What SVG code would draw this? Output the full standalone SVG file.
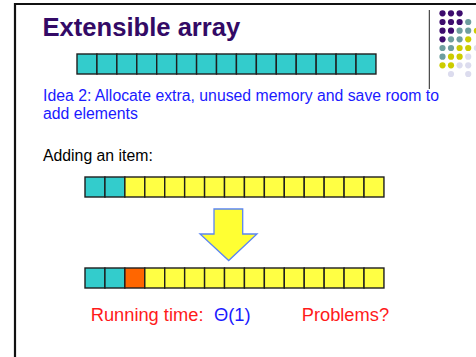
<svg xmlns="http://www.w3.org/2000/svg" width="476" height="357" viewBox="0 0 476 357">
  <style>
    .cell { stroke: #1e1e1e; stroke-width: 1.4; }
    .teal { fill: #33CCCC; }
    .yel { fill: #FFFF44; }
    .org { fill: #FF6600; }
    .txt { font-family: "Liberation Sans", Arial, sans-serif; }
    .p { fill: #3D0C6E; }
    .t { fill: #6E9E9E; }
    .y { fill: #CCCC00; }
    .l { fill: #DCDCEE; }
  </style>
  <defs>
    <rect id="c" width="19.93" height="20" class="cell"/>
  </defs>
  <rect width="476" height="357" fill="#ffffff"/>
  <!-- slide frame -->
  <path d="M15 360 V4 H480" fill="none" stroke="#111" stroke-width="2.2"/>
  <!-- corner logo -->
  <g id="logo">
    <line x1="429.3" y1="10" x2="429.3" y2="89" stroke="#222" stroke-width="1"/>
    <g>
      <circle cx="442.5" cy="13.3" r="3.1" class="p"/><circle cx="451" cy="13.3" r="3.1" class="p"/><circle cx="459.6" cy="13.3" r="3.1" class="p"/>
      <circle cx="442.5" cy="22" r="3.1" class="p"/><circle cx="451" cy="22" r="3.1" class="p"/><circle cx="459.6" cy="22" r="3.1" class="p"/><circle cx="468.2" cy="22" r="3.1" class="t"/>
      <circle cx="442.5" cy="30.7" r="3.1" class="p"/><circle cx="451" cy="30.7" r="3.1" class="p"/><circle cx="459.6" cy="30.7" r="3.1" class="t"/><circle cx="468.2" cy="30.7" r="3.1" class="t"/><circle cx="476.8" cy="30.7" r="3.1" class="y"/>
      <circle cx="442.5" cy="39.3" r="3.1" class="p"/><circle cx="451" cy="39.3" r="3.1" class="t"/><circle cx="459.6" cy="39.3" r="3.1" class="t"/><circle cx="468.2" cy="39.3" r="3.1" class="y"/>
      <circle cx="442.5" cy="48" r="3.1" class="t"/><circle cx="451" cy="48" r="3.1" class="t"/><circle cx="459.6" cy="48" r="3.1" class="y"/><circle cx="468.2" cy="48" r="3.1" class="y"/><circle cx="476.8" cy="48" r="3.1" class="l"/>
      <circle cx="442.5" cy="56.7" r="3.1" class="t"/><circle cx="451" cy="56.7" r="3.1" class="y"/><circle cx="459.6" cy="56.7" r="3.1" class="y"/><circle cx="468.2" cy="56.7" r="3.1" class="l"/>
      <circle cx="442.5" cy="65.3" r="3.1" class="y"/><circle cx="451" cy="65.3" r="3.1" class="y"/><circle cx="459.6" cy="65.3" r="3.1" class="l"/><circle cx="468.2" cy="65.3" r="3.1" class="l"/>
      <circle cx="451" cy="74" r="3.1" class="l"/><circle cx="468.2" cy="74" r="3.1" class="l"/>
    </g>
  </g>
  <!-- title -->
  <g id="title">
    <text x="42.5" y="36" class="txt" font-size="25.6" font-weight="bold" fill="#330A66">Extensible array</text>
  </g>
  <!-- full array -->
  <g id="array-full">
    <use href="#c" x="77" y="54" class="teal"/><use href="#c" x="96.93" y="54" class="teal"/><use href="#c" x="116.86" y="54" class="teal"/><use href="#c" x="136.79" y="54" class="teal"/><use href="#c" x="156.72" y="54" class="teal"/>
    <use href="#c" x="176.65" y="54" class="teal"/><use href="#c" x="196.58" y="54" class="teal"/><use href="#c" x="216.51" y="54" class="teal"/><use href="#c" x="236.44" y="54" class="teal"/><use href="#c" x="256.37" y="54" class="teal"/>
    <use href="#c" x="276.3" y="54" class="teal"/><use href="#c" x="296.23" y="54" class="teal"/><use href="#c" x="316.16" y="54" class="teal"/><use href="#c" x="336.09" y="54" class="teal"/><use href="#c" x="356.02" y="54" class="teal"/>
  </g>
  <!-- description -->
  <g id="idea">
    <text class="txt" font-size="15.8" fill="#1A1AFF">
      <tspan x="43" y="100.5">Idea 2: Allocate extra, unused memory and save room to</tspan>
      <tspan x="43" y="118.5">add elements</tspan>
    </text>
  </g>
  <g id="adding">
    <text x="43" y="161" class="txt" font-size="15.8" fill="#000">Adding an item:</text>
  </g>
  <!-- array before insertion -->
  <g id="array-before">
    <use href="#c" x="85" y="177" class="teal"/><use href="#c" x="104.93" y="177" class="teal"/><use href="#c" x="124.86" y="177" class="yel"/><use href="#c" x="144.79" y="177" class="yel"/><use href="#c" x="164.72" y="177" class="yel"/>
    <use href="#c" x="184.65" y="177" class="yel"/><use href="#c" x="204.58" y="177" class="yel"/><use href="#c" x="224.51" y="177" class="yel"/><use href="#c" x="244.44" y="177" class="yel"/><use href="#c" x="264.37" y="177" class="yel"/>
    <use href="#c" x="284.3" y="177" class="yel"/><use href="#c" x="304.23" y="177" class="yel"/><use href="#c" x="324.16" y="177" class="yel"/><use href="#c" x="344.09" y="177" class="yel"/><use href="#c" x="364.02" y="177" class="yel"/>
  </g>
  <!-- down arrow -->
  <g id="connectors">
    <path d="M214 209 H242.7 V234 H257 L228.7 260.5 L200 234 H214 Z" fill="#FFFF33" stroke="#5B85F2" stroke-width="1.3" stroke-linejoin="miter"/>
  </g>
  <!-- array after insertion -->
  <g id="array-after">
    <use href="#c" x="85" y="268" class="teal"/><use href="#c" x="104.93" y="268" class="teal"/><use href="#c" x="124.86" y="268" class="org"/><use href="#c" x="144.79" y="268" class="yel"/><use href="#c" x="164.72" y="268" class="yel"/>
    <use href="#c" x="184.65" y="268" class="yel"/><use href="#c" x="204.58" y="268" class="yel"/><use href="#c" x="224.51" y="268" class="yel"/><use href="#c" x="244.44" y="268" class="yel"/><use href="#c" x="264.37" y="268" class="yel"/>
    <use href="#c" x="284.3" y="268" class="yel"/><use href="#c" x="304.23" y="268" class="yel"/><use href="#c" x="324.16" y="268" class="yel"/><use href="#c" x="344.09" y="268" class="yel"/><use href="#c" x="364.02" y="268" class="yel"/>
  </g>
  <!-- running time -->
  <g id="running">
    <text x="90.7" y="321" class="txt" font-size="18.3" fill="#FF1A1A">Running time:</text>
    <text x="214" y="321" class="txt" font-size="18.3" fill="#1A1AFF">Θ(1)</text>
    <text x="301.7" y="321" class="txt" font-size="18.3" fill="#FF1A1A">Problems?</text>
  </g>
</svg>
